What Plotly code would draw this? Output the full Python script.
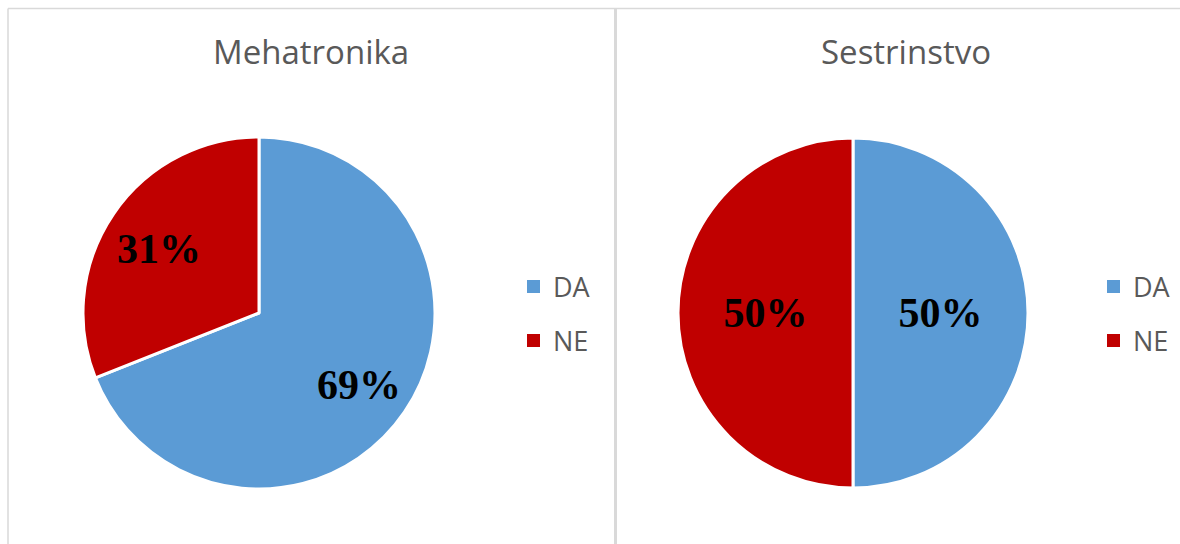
import math
import plotly.graph_objects as go

W, H = 1180, 544

labels = ["DA", "NE"]
colors = ["#5B9BD5", "#C00000"]
titles = ["Mehatronika", "Sestrinstvo"]
mehatronika_values = [69, 31]
sestrinstvo_values = [50, 50]

def px_x(x):
    return x / W

def px_y(y):
    return 1 - y / H

fig = go.Figure()

panels = [
    dict(values=mehatronika_values, cx=259, cy=313, r=176, title_x=311, legend_x=527, native=False),
    dict(values=sestrinstvo_values, cx=853, cy=313, r=175, title_x=906, legend_x=1107, native=True),
]

label_font = dict(family="Liberation Serif", size=42, color="black", weight="bold")

for title, p in zip(titles, panels):
    fig.add_trace(go.Pie(
        labels=labels,
        values=p["values"],
        sort=False,
        direction="clockwise",
        rotation=0,
        marker=dict(colors=colors, line=dict(color="white", width=3)),
        texttemplate="%{percent:.0%}",
        textposition="inside" if p["native"] else "none",
        insidetextorientation="horizontal",
        textfont=label_font,
        domain=dict(x=[px_x(p["cx"] - p["r"]), px_x(p["cx"] + p["r"])],
                    y=[px_y(p["cy"] + p["r"]), px_y(p["cy"] - p["r"])]),
        showlegend=False,
        hoverinfo="label+percent",
    ))
    if not p["native"]:
        # place percentage labels along each slice's mid-angle (best-fit style)
        total = sum(p["values"])
        start = 0.0
        for v in p["values"]:
            mid = (start + v / 2) / total * 2 * math.pi
            start += v
            rr = 0.69 * p["r"]
            x = p["cx"] + rr * math.sin(mid)
            y = p["cy"] - rr * math.cos(mid) + 4
            fig.add_annotation(
                x=px_x(x), y=px_y(y), xref="paper", yref="paper",
                text=f"{round(100 * v / total)}%", showarrow=False,
                xanchor="center", yanchor="middle", font=label_font,
            )
    fig.add_annotation(
        x=px_x(p["title_x"]), y=px_y(51), xref="paper", yref="paper",
        text=title, showarrow=False, xanchor="center", yanchor="middle",
        font=dict(family="Open Sans", size=33, color="#595959"),
    )
    # legend
    for i, (lab, col) in enumerate(zip(labels, colors)):
        yc = 286.5 + 54 * i
        lx = p["legend_x"]
        fig.add_shape(type="rect", xref="paper", yref="paper",
                      x0=px_x(lx), x1=px_x(lx + 13), y0=px_y(yc + 6.5), y1=px_y(yc - 6.5),
                      fillcolor=col, line=dict(width=0))
        fig.add_annotation(
            x=px_x(lx + 24), y=px_y(yc), xref="paper", yref="paper",
            text=lab, showarrow=False, xanchor="left", yanchor="middle",
            font=dict(family="Open Sans", size=27, color="#595959"),
        )

# panel borders
border = "#D9D9D9"
fig.add_shape(type="line", xref="paper", yref="paper",
              x0=px_x(8), x1=1, y0=px_y(8.5), y1=px_y(8.5), line=dict(color=border, width=1.5))
fig.add_shape(type="line", xref="paper", yref="paper",
              x0=px_x(8), x1=px_x(8), y0=px_y(8.5), y1=0, line=dict(color=border, width=1.5))
fig.add_shape(type="line", xref="paper", yref="paper",
              x0=px_x(615.5), x1=px_x(615.5), y0=px_y(8.5), y1=0, line=dict(color=border, width=3))

fig.update_layout(
    width=W, height=H, autosize=False,
    margin=dict(l=0, r=0, t=0, b=0),
    paper_bgcolor="white", plot_bgcolor="white",
    showlegend=False,
)

fig.write_html("out.html", config={"displayModeBar": False},
               post_script="document.body.style.margin='0';document.body.style.overflow='hidden';")
